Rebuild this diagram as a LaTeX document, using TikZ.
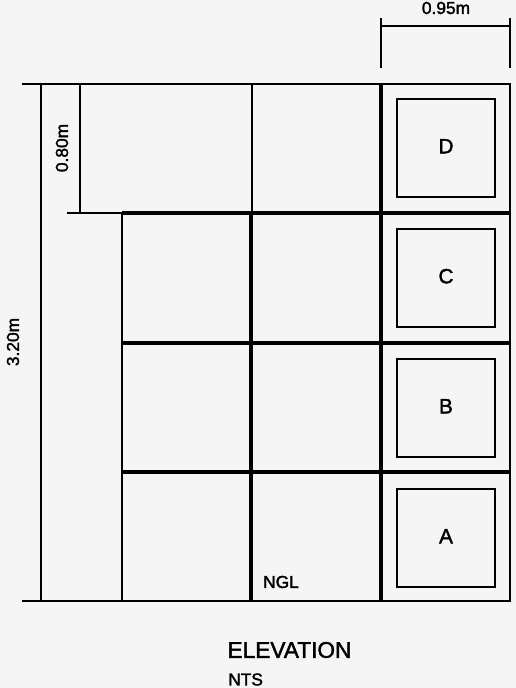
\documentclass[tikz,border=0pt]{standalone}
\usepackage{fontspec}
\setmainfont{Liberation Sans}[FakeBold=1.8]
\usetikzlibrary{positioning}
\definecolor{paper}{HTML}{F5F5F5}
\tikzset{
    thinwall/.style={line width=1.8pt},
    thickwall/.style={line width=3pt},
    panel/.style={draw, line width=1.5pt, minimum width=74pt, minimum height=74pt, inner sep=0pt, text height=11pt, text depth=3pt, font=\fontsize{15.5}{18}\selectfont},
    dimtext/.style={inner sep=0pt, font=\fontsize{13}{15}\selectfont}
}
\begin{document}
\begin{tikzpicture}[x=0.75pt, y=-0.75pt]
    \fill [paper] (0,0) rectangle (516,688);
    \useasboundingbox (0,0) rectangle (516,688);

    % panels on the right bay
    \node [panel] (panelD) at (446,148) {D};
    \node [panel] (panelC) at (446,278) {C};
    \node [panel] (panelB) at (446,408) {B};
    \node [panel] (panelA) at (446,538) {A};

    % outline and overall dimension
    \draw [thinwall] (22,84) -- (510,84) -- (510,601) -- (22,601);
    \draw [thinwall] (41,84) -- (41,601);
    \draw [thinwall] (80,84) -- (80,213);
    \draw [thinwall] (122,213) -- (122,601);
    \draw [thinwall] (252,84) -- (252,213);

    % thick frame
    \draw [thickwall] (381,84) -- (381,601);
    \draw [thickwall] (251,213) -- (251,601);
    \draw [thinwall] (67,213) -- (122,213);
    \draw [thickwall] (122,213) -- (510,213);
    \draw [thickwall] (122,343) -- (510,343);
    \draw [thickwall] (122,472) -- (510,472);

    % width dimension
    \draw [thinwall] (381,18) -- (381,68);
    \draw [thinwall] (510,18) -- (510,68);
    \draw [thinwall] (381,26) -- (510,26);

    \node [dimtext] (width) at (446,8) {0.95m};
    \node [dimtext, rotate=90] (total) at (13,342) {3.20m};
    \node [dimtext, rotate=90] (upper) at (62,148) {0.80m};
    \node [dimtext] (ngl) at (281,582) {NGL};

    \node [inner sep=0pt, font=\fontsize{17}{20}\selectfont] (title) at (289.5,650) {ELEVATION};
    \node [dimtext, anchor=west] (nts) at (228,679.5) {NTS};
\end{tikzpicture}
\end{document}
